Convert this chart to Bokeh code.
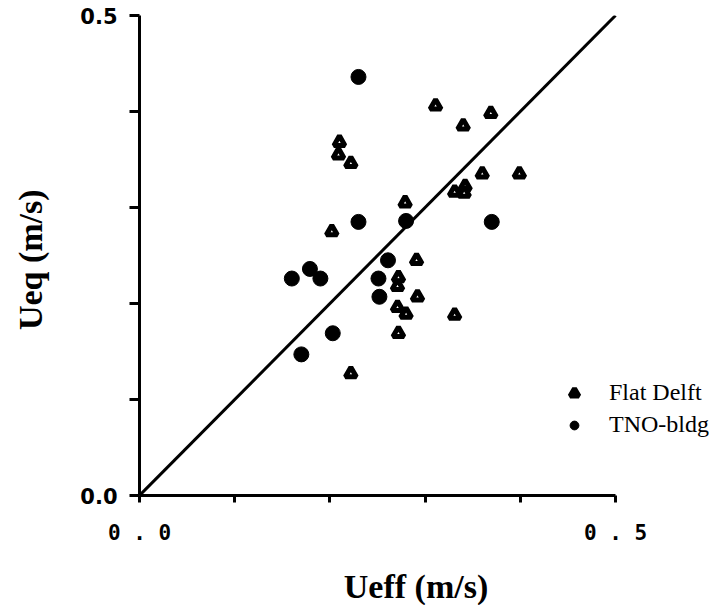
from bokeh.plotting import figure
from bokeh.models import Range1d, FixedTicker, Legend, LegendItem
from bokeh.embed import file_html
from bokeh.resources import INLINE

# Flat Delft (triangles)
flat_x = [0.210, 0.209, 0.222, 0.311, 0.340, 0.369, 0.360, 0.399, 0.331, 0.342, 0.341,
          0.279, 0.202, 0.291, 0.272, 0.271, 0.292, 0.271, 0.280, 0.272, 0.331, 0.222]
flat_y = [0.368, 0.355, 0.346, 0.406, 0.385, 0.398, 0.335, 0.335, 0.316, 0.322, 0.315,
          0.305, 0.275, 0.245, 0.227, 0.218, 0.207, 0.196, 0.189, 0.169, 0.188, 0.127]
# TNO-bldg (circles)
tno_x = [0.230, 0.230, 0.280, 0.370, 0.179, 0.160, 0.190, 0.261, 0.251, 0.252, 0.203, 0.170]
tno_y = [0.436, 0.285, 0.286, 0.285, 0.236, 0.226, 0.226, 0.245, 0.226, 0.207, 0.169, 0.147]
# 1:1 line
line_x = [0.0, 0.5]
line_y = [0.0, 0.5]

tick_vals = [0.0, 0.1, 0.2, 0.3, 0.4, 0.5]
x_tick_labels = {0.0: "0 . 0", 0.1: "", 0.2: "", 0.3: "", 0.4: "", 0.5: "0 . 5"}
y_tick_labels = {0.0: "0.0", 0.1: "", 0.2: "", 0.3: "", 0.4: "", 0.5: "0.5"}

p = figure(frame_width=570, frame_height=480, output_backend="svg", toolbar_location=None,
           x_range=Range1d(0, 0.5987), y_range=Range1d(0, 0.5),
           min_border_left=139, min_border_top=15, min_border_right=0, min_border_bottom=108)
p.outline_line_color = None
p.xgrid.visible = False
p.ygrid.visible = False

p.line(line_x, line_y, line_color="black", line_width=3)
tri = p.scatter(flat_x, flat_y, marker="triangle", size=11, fill_color="white",
                line_color="black", line_width=5)
cir = p.scatter(tno_x, tno_y, marker="circle", size=15, fill_color="black",
                line_color="black")

for ax in (p.xaxis[0], p.yaxis[0]):
    ax.ticker = FixedTicker(ticks=tick_vals)
    ax.bounds = (0, 0.5)
    ax.axis_line_width = 3
    ax.axis_line_color = "black"
    ax.major_tick_line_width = 3
    ax.major_tick_in = 0
    ax.minor_tick_line_color = None
    ax.axis_label_text_font = "Liberation Serif"
    ax.axis_label_text_font_style = "bold"
    ax.axis_label_text_font_size = "34px"
    ax.axis_label_text_color = "black"
    ax.major_label_text_color = "black"

p.xaxis[0].axis_label = "Ueff   (m/s)"
p.xaxis[0].major_tick_out = 7
p.xaxis[0].major_label_overrides = x_tick_labels
p.xaxis[0].major_label_text_font = "DejaVu Sans Mono"
p.xaxis[0].major_label_text_font_style = "bold"
p.xaxis[0].major_label_text_font_size = "21px"
p.xaxis[0].major_label_standoff = 18
p.xaxis[0].axis_label_standoff = 20

p.yaxis[0].axis_label = "Ueq  (m/s)"
p.yaxis[0].major_tick_out = 10
p.yaxis[0].major_label_overrides = y_tick_labels
p.yaxis[0].major_label_text_font = "DejaVu Sans"
p.yaxis[0].major_label_text_font_style = "bold"
p.yaxis[0].major_label_text_font_size = "21px"
p.yaxis[0].major_label_standoff = 12
p.yaxis[0].axis_label_standoff = 28

legend = Legend(items=[LegendItem(label="Flat Delft", renderers=[tri]),
                       LegendItem(label="TNO-bldg", renderers=[cir])],
                location=(424, 57), orientation="vertical")
legend.border_line_alpha = 0
legend.background_fill_alpha = 0
legend.label_text_font = "Liberation Serif"
legend.label_text_font_size = "24px"
legend.label_text_color = "black"
legend.glyph_width = 22
legend.glyph_height = 22
legend.label_standoff = 24
legend.spacing = 5
legend.padding = 0
legend.margin = 0
p.add_layout(legend, "center")

open("out.html", "w").write(file_html(p, INLINE))
